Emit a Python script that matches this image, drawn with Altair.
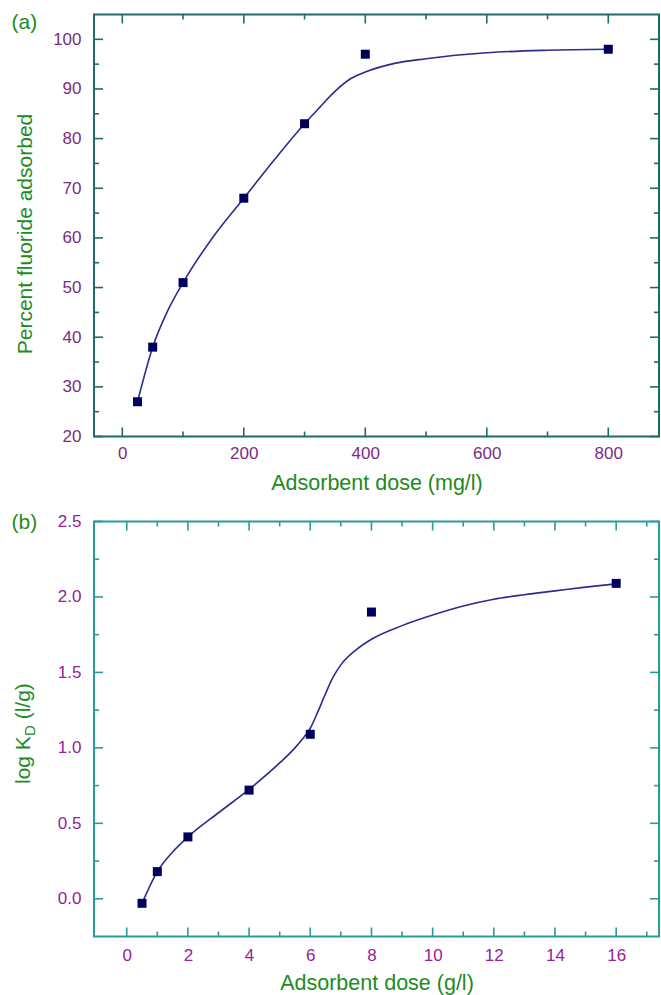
import altair as alt
import pandas as pd

FONT = "Liberation Sans"

# ---------------- Panel (a) data ----------------
dose_mg = [25, 50, 100, 200, 300, 400, 800]
pct_adsorbed = [27, 38, 51, 68, 83, 97, 98]
fit_dose_mg = [25, 50, 75, 100, 150, 200, 250, 300, 325, 350, 375, 400, 450, 500, 600, 700, 800]
fit_pct = [27, 38, 45.4, 51, 60.3, 68, 75.7, 83, 86.3, 89.5, 92.0, 93.4, 95.2, 96.1, 97.3, 97.8, 98.0]
xa_major = [0, 200, 400, 600, 800]
xa_minor = [100, 300, 500, 700]
ya_major = [20, 30, 40, 50, 60, 70, 80, 90, 100]
ya_minor = [25, 35, 45, 55, 65, 75, 85, 95]

# ---------------- Panel (b) data ----------------
dose_g = [0.5, 1, 2, 4, 6, 8, 16]
log_kd = [-0.03, 0.18, 0.41, 0.72, 1.09, 1.90, 2.09]
fit_dose_g = [0.5, 1, 1.5, 2, 3, 4, 5, 5.5, 5.75, 6, 6.25, 6.5, 6.75, 7, 7.5, 8,
              9, 10, 11, 12, 13, 14, 15, 16]
fit_log_kd = [-0.03, 0.18, 0.31, 0.41, 0.57, 0.725, 0.9, 1.0, 1.06, 1.13, 1.24, 1.36, 1.47,
              1.55, 1.65, 1.72, 1.81, 1.88, 1.94, 1.985, 2.015, 2.04, 2.065, 2.087]
xb_major = [0, 2, 4, 6, 8, 10, 12, 14, 16]
xb_minor = [1, 3, 5, 7, 9, 11, 13, 15, 17]
yb_major = [0.0, 0.5, 1.0, 1.5, 2.0, 2.5]
yb_minor = [0.25, 0.75, 1.25, 1.75, 2.25]

MARK = "#00005c"
LINE = "#2c2c8e"
W = 565


def panel(xd, yd, fx, fy, xdom, ydom, xmaj, xmin, ymaj, ymin, H,
          spine, purple, green, xtitle, ytitle, xfmt, yfmt,
          xlp, xtp, ylp, ytp, tag, tag_y, extra=None):
    xs = alt.Scale(domain=xdom, nice=False, zero=False)
    ys = alt.Scale(domain=ydom, nice=False, zero=False)
    common = dict(domain=False, ticks=False, grid=False, labelFont=FONT, labelFontSize=17,
                  labelColor=purple, labelFlush=False, labelOverlap=False,
                  titleFont=FONT, titleFontWeight="normal", titleColor=green)
    xaxis = alt.Axis(values=xmaj, format=xfmt, labelPadding=xlp, titlePadding=xtp,
                     titleFontSize=21.5, labelAngle=0, title=xtitle, **common)
    if ytitle:
        yaxis = alt.Axis(values=ymaj, format=yfmt, labelPadding=ylp, titlePadding=ytp,
                         titleFontSize=21, titleY=H / 2 + 8, title=ytitle, **common)
    else:
        yaxis = alt.Axis(values=ymaj, format=yfmt, labelPadding=ylp, title=None, **common)

    def X(f):
        return alt.X(f, scale=xs, axis=xaxis)

    def Y(f):
        return alt.Y(f, scale=ys, axis=yaxis)

    line = alt.Chart(pd.DataFrame({"x": fx, "y": fy})).mark_line(
        color=LINE, strokeWidth=1.6, interpolate="monotone"
    ).encode(x=X("x:Q"), y=Y("y:Q"))

    pts = alt.Chart(pd.DataFrame({"x": xd, "y": yd})).mark_square(
        size=81, color=MARK, opacity=1
    ).encode(x=X("x:Q"), y=Y("y:Q"))

    layers = [line, pts]
    sw = 1.6
    for vals, ln in ((xmaj, 9), (xmin, 5)):
        d = pd.DataFrame({"x": vals})
        layers.append(alt.Chart(d).mark_rule(color=spine, strokeWidth=sw).encode(
            x=X("x:Q"), y=alt.value(H), y2=alt.value(H - ln)))
        layers.append(alt.Chart(d).mark_rule(color=spine, strokeWidth=sw).encode(
            x=X("x:Q"), y=alt.value(0), y2=alt.value(ln)))
    for vals, ln in ((ymaj, 9), (ymin, 5)):
        d = pd.DataFrame({"y": vals})
        layers.append(alt.Chart(d).mark_rule(color=spine, strokeWidth=sw).encode(
            y=Y("y:Q"), x=alt.value(0), x2=alt.value(ln)))
        layers.append(alt.Chart(d).mark_rule(color=spine, strokeWidth=sw).encode(
            y=Y("y:Q"), x=alt.value(W), x2=alt.value(W - ln)))

    layers.append(alt.Chart(pd.DataFrame({"t": [tag]})).mark_text(
        align="left", baseline="alphabetic", font=FONT, fontSize=21, color=green
    ).encode(text="t:N", x=alt.value(-82.5), y=alt.value(tag_y)))

    if extra:
        layers.extend(extra)

    return alt.layer(*layers).properties(
        width=W, height=H,
        view=alt.ViewBackground(stroke=spine, strokeWidth=2)
    )


# custom y title for panel (b): log K_D (l/g)
GREEN_B = "#1e8c1e"
ytitle_b = [
    alt.Chart(pd.DataFrame({"t": ["log K"]})).mark_text(
        align="left", baseline="alphabetic", angle=270, font=FONT, fontSize=21, color=GREEN_B
    ).encode(text="t:N", x=alt.value(-63.7), y=alt.value(262.5)),
    alt.Chart(pd.DataFrame({"t": ["D"]})).mark_text(
        align="left", baseline="alphabetic", angle=270, font=FONT, fontSize=15, color=GREEN_B
    ).encode(text="t:N", x=alt.value(-59.5), y=alt.value(214.6)),
    alt.Chart(pd.DataFrame({"t": ["(l/g)"]})).mark_text(
        align="left", baseline="alphabetic", angle=270, font=FONT, fontSize=21, color=GREEN_B
    ).encode(text="t:N", x=alt.value(-63.7), y=alt.value(197.8)),
]

pa = panel(dose_mg, pct_adsorbed, fit_dose_mg, fit_pct, [-46.6, 883.5], [20, 105],
           xa_major, xa_minor, ya_major, ya_minor, 422,
           "#1d6b6b", "#7b2d80", "#218a21", "Adsorbent dose (mg/l)", "Percent fluoride adsorbed",
           "d", "d", 9, 11, 13, 17, "(a)", 14.6)

pb = panel(dose_g, log_kd, fit_dose_g, fit_log_kd, [-1.07, 17.4], [-0.25, 2.5],
           xb_major, xb_minor, yb_major, yb_minor, 415,
           "#2a9a9a", "#962199", GREEN_B, "Adsorbent dose (g/l)", None,
           "d", ".1f", 11, 9, 13, 16, "(b)", 7.6, extra=ytitle_b)

chart = alt.concat(pa, pb, columns=1, spacing=15).properties(
    padding={"left": 10, "top": 10.5, "right": 0, "bottom": 0}
).configure_view(stroke=None)

chart.save("out.html", embed_options={"renderer": "svg", "actions": False})
